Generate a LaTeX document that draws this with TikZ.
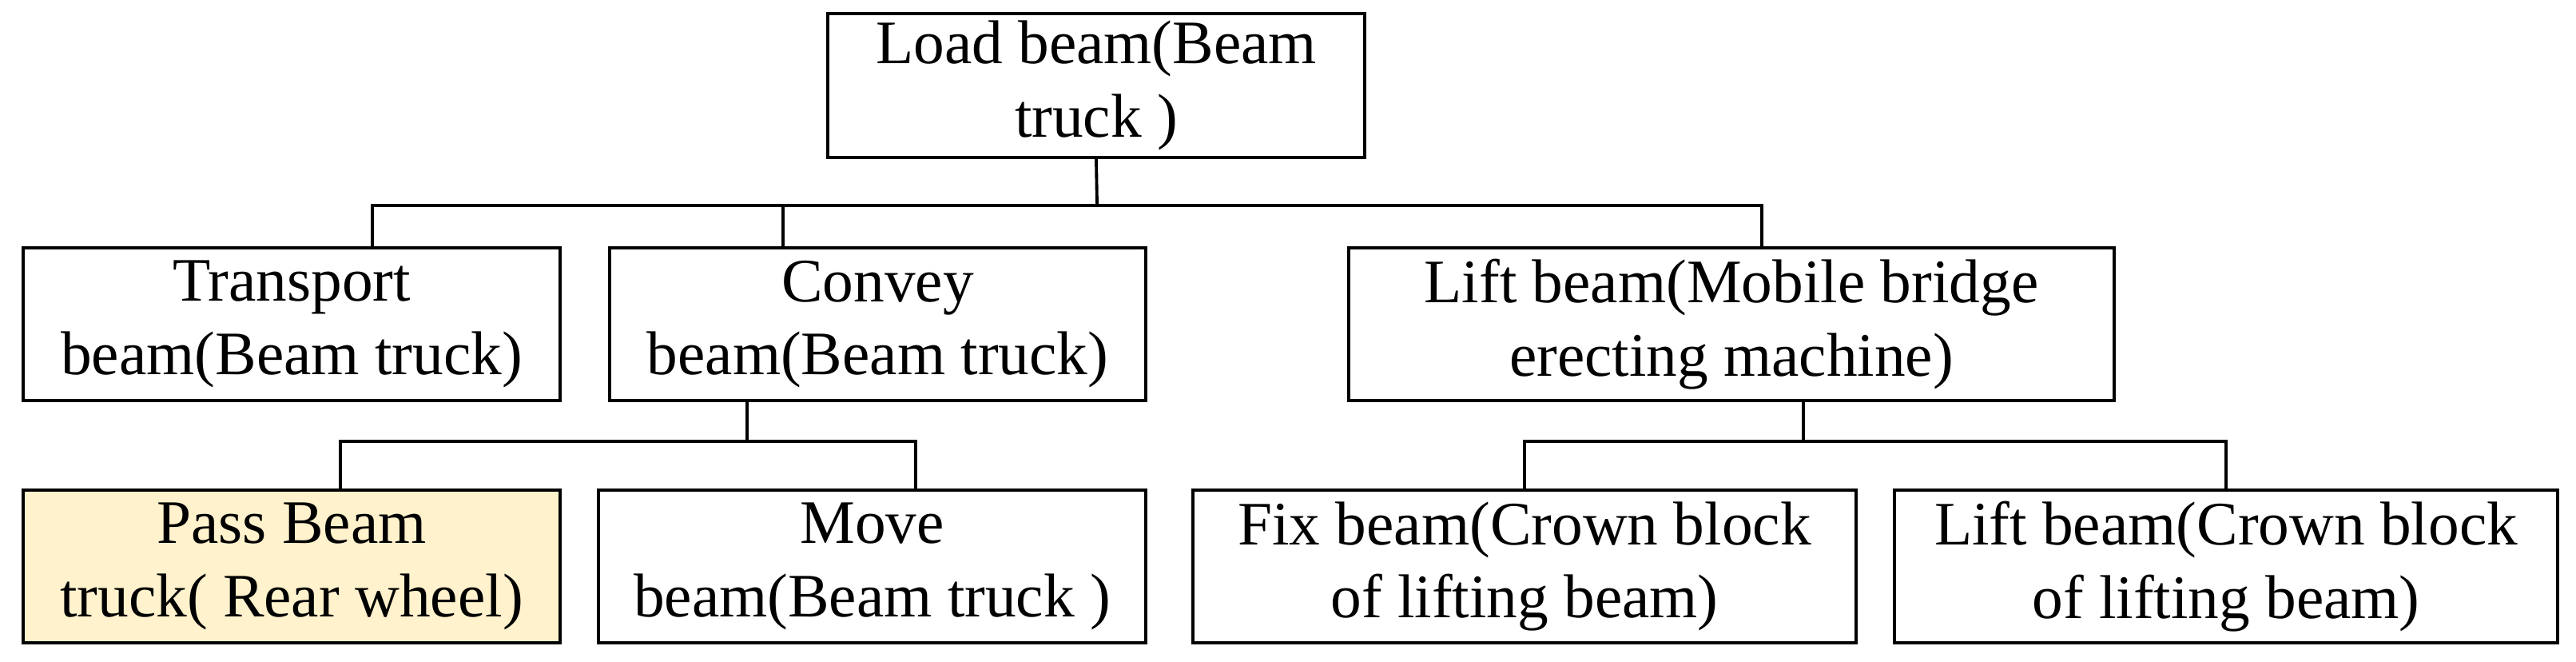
\documentclass[tikz,border=0pt]{standalone}
\usepackage{fontspec}
\setmainfont{Liberation Serif}
\usetikzlibrary{calc}
\tikzset{
  task/.style={ % one box of the work breakdown
    draw, rectangle, line width=1.1pt, align=center, text=black,
    minimum height=1.91cm, inner sep=2pt,
    font=\fontsize{22}{26}\selectfont
  },
  link/.style={line width=1.1pt}
}
\begin{document}
\begin{tikzpicture}
  \useasboundingbox (0,0) rectangle (32.24,8.27);

  \node[task, minimum width=6.72cm, minimum height=1.80cm] (load) at (13.72,7.20) {Load beam(Beam\\truck )};
  \node[task, minimum width=6.72cm] (transport) at (3.65,4.215) {Transport\\beam(Beam truck)};
  \node[task, minimum width=6.71cm] (convey) at (10.985,4.215) {Convey\\beam(Beam truck)};
  \node[task, minimum width=9.58cm] (lift) at (21.67,4.215) {Lift beam(Mobile bridge\\erecting machine)};
  \node[task, minimum width=6.72cm, fill={rgb,255:red,255;green,242;blue,204}] (pass) at (3.65,1.185) {Pass Beam\\truck( Rear wheel)};
  \node[task, minimum width=6.85cm] (move) at (10.915,1.185) {Move\\beam(Beam truck )};
  \node[task, minimum width=8.30cm] (fix) at (19.08,1.185) {Fix beam(Crown block\\of lifting beam)};
  \node[task, minimum width=8.30cm] (crown) at (27.86,1.185) {Lift beam(Crown block\\of lifting beam)};

  \coordinate (bus1) at (13.73,5.70);
  \coordinate (bus2) at (9.35,2.75);
  \coordinate (bus3) at (22.57,2.75);

  \draw[link] (load.south) -- (bus1);
  \draw[link] ([xshift=1.01cm]transport.north) |- (bus1) -| ([xshift=0.38cm]lift.north);
  \draw[link] ([xshift=-1.185cm]convey.north) -- ([xshift=-1.185cm]convey.north |- bus1);
  \draw[link] ([xshift=-1.635cm]convey.south) -- (bus2);
  \draw[link] ([xshift=0.61cm]pass.north) |- (bus2) -| ([xshift=0.545cm]move.north);
  \draw[link] ([xshift=0.9cm]lift.south) -- (bus3);
  \draw[link] (fix.north) |- (bus3) -| (crown.north);
\end{tikzpicture}
\end{document}
